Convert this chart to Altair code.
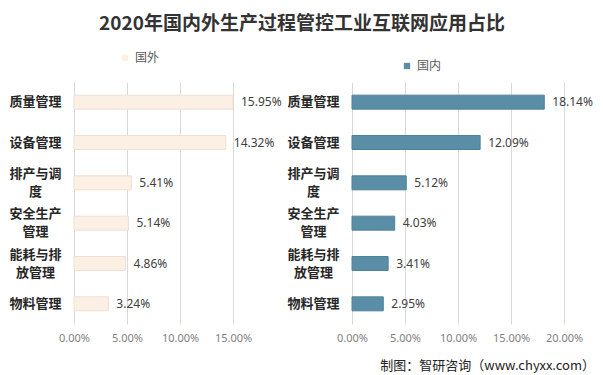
import altair as alt
import pandas as pd

categories = ["质量管理", "设备管理", "排产与调\n度", "安全生产\n管理", "能耗与排\n放管理", "物料管理"]
foreign = [15.95, 14.32, 5.41, 5.14, 4.86, 3.24]
domestic = [18.14, 12.09, 5.12, 4.03, 3.41, 2.95]
left_ticks = [0, 0.05, 0.10, 0.15]
right_ticks = [0, 0.05, 0.10, 0.15, 0.20]

title_text = "2020年国内外生产过程管控工业互联网应用占比"
footer_text = "制图：智研咨询（www.chyxx.com）"

df_f = pd.DataFrame({"cat": categories, "v": [x / 100 for x in foreign], "series": "国外"})
df_d = pd.DataFrame({"cat": categories, "v": [x / 100 for x in domestic], "series": "国内"})

CJK = "Noto Sans CJK SC"

y_axis = alt.Axis(
    title=None, labelExpr="split(datum.label, '\\n')", labelAlign="center",
    labelPadding=39, labelFont=CJK, labelFontWeight="bold", labelFontSize=13,
    labelColor="#262626", labelLineHeight=18, ticks=False, domain=False, grid=False,
    labelOffset={"condition": {"test": "indexof(datum.label, '\\n') >= 0", "value": -9}, "value": 0},
)


def panel(df, domain, ticks, fill, stroke, legend_x, legend_y):
    base = alt.Chart(df).transform_calculate(xb=f"min(datum.v, {domain[1]})")
    x_scale = alt.Scale(domain=domain, nice=False)
    y_enc = alt.Y("cat:N", sort=categories, axis=y_axis,
                  scale=alt.Scale(paddingInner=0.66, paddingOuter=0.33))
    x_enc = alt.X("xb:Q", scale=x_scale,
                  axis=alt.Axis(title=None, values=ticks, format=".2%", grid=True,
                                gridColor="#D9D9D9", domain=False, ticks=False,
                                labelColor="#7F7F7F", labelFontSize=11, labelFlush=False,
                                labelOverlap=False,
                                labelFont="Noto Sans", labelPadding=8))
    bars = base.mark_bar(size=14, stroke=stroke, strokeWidth=1).encode(
        x=x_enc,
        y=y_enc,
        fill=alt.Fill("series:N", scale=alt.Scale(domain=[df["series"][0]], range=[fill]),
                      legend=alt.Legend(title=None, orient="none", legendX=legend_x,
                                        legendY=legend_y, symbolType="square",
                                        symbolSize=40, labelFont=CJK, labelFontSize=12,
                                        labelColor="#595959", symbolStrokeWidth=0)),
    )
    texts = base.mark_text(align="left", dx=8, fontSize=12, font="Noto Sans",
                           color="#404040").encode(
        x=alt.X("xb:Q", scale=x_scale),
        y=alt.Y("cat:N", sort=categories),
        text=alt.Text("v:Q", format=".2%"),
    )
    return bars, texts


lb, lt = panel(df_f, [0, 0.15], left_ticks, "#FCEFE3", "#EEDFD2", 45, -30)
rb, rt = panel(df_d, [0, 0.20], right_ticks, "#5A8EA6", "#4F8299", 49, -22)

footer = alt.Chart(pd.DataFrame({"t": [footer_text]})).mark_text(
    align="right", baseline="middle", fontSize=13, font=CJK, color="#222222"
).encode(x=alt.value(243), y=alt.value(284), text="t:N")

left = alt.layer(lb, lt).properties(width=159, height=242)
right = alt.layer(rb, rt, footer).properties(width=212, height=242)

chart = alt.hconcat(left, right, spacing=119, bounds="flush").resolve_scale(
    fill="independent", x="independent"
).properties(
    title=alt.TitleParams(title_text, fontSize=19, font=CJK, fontWeight="bold",
                          color="#333333", anchor="middle", offset=18),
    padding={"top": 7, "left": 0, "right": 0, "bottom": 0},
).configure_view(stroke=None)

chart.save("out.html", embed_options={"renderer": "svg", "actions": False})
